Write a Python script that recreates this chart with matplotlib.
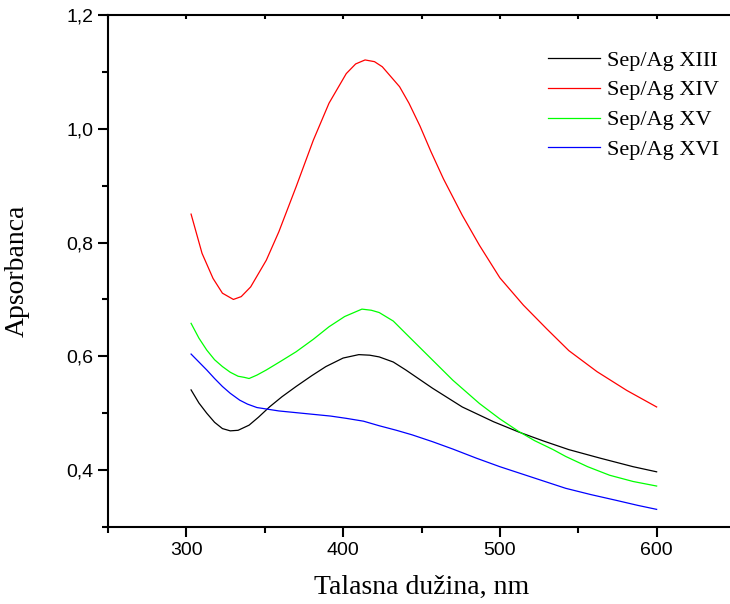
import matplotlib
matplotlib.use("Agg")
import matplotlib.pyplot as plt

# wavelength (nm) / absorbance
x_xiii = [303, 308, 313, 318, 323, 328, 333, 340, 346, 353, 361, 370, 380, 389, 400, 410, 417, 423,
          432, 440, 457, 476, 496, 512, 528, 544, 564, 585, 600]
y_xiii = [0.541, 0.518, 0.500, 0.484, 0.473, 0.469, 0.470, 0.479, 0.493, 0.511, 0.529, 0.547, 0.566,
          0.582, 0.597, 0.603, 0.602, 0.599, 0.590, 0.576, 0.544, 0.511, 0.485, 0.467, 0.451, 0.436,
          0.421, 0.406, 0.397]

x_xiv = [303, 310, 317, 323, 330, 335, 341, 351, 359, 370, 381, 391, 402, 408, 414, 420, 425, 436,
         442, 449, 456, 464, 476, 487, 500, 515, 530, 544, 562, 581, 600]
y_xiv = [0.850, 0.781, 0.737, 0.711, 0.700, 0.705, 0.722, 0.769, 0.819, 0.898, 0.980, 1.045, 1.097,
         1.114, 1.121, 1.118, 1.109, 1.074, 1.045, 1.005, 0.960, 0.912, 0.848, 0.795, 0.738, 0.690,
         0.648, 0.610, 0.573, 0.540, 0.511]

x_xv = [303, 308, 313, 318, 323, 328, 333, 337, 340, 345, 351, 360, 370, 381, 391, 401, 412, 418,
        423, 432, 440, 455, 470, 487, 500, 512, 522, 534, 542, 556, 570, 585, 600]
y_xv = [0.658, 0.632, 0.611, 0.594, 0.582, 0.572, 0.565, 0.563, 0.561, 0.567, 0.576, 0.591, 0.608,
        0.630, 0.652, 0.670, 0.683, 0.681, 0.677, 0.662, 0.640, 0.599, 0.558, 0.517, 0.490, 0.468,
        0.452, 0.436, 0.424, 0.406, 0.391, 0.380, 0.372]

x_xvi = [303, 308, 313, 318, 323, 328, 334, 339, 345, 352, 359, 370, 381, 392, 402, 413, 423, 434,
         444, 457, 470, 485, 500, 521, 542, 558, 574, 588, 600]
y_xvi = [0.604, 0.590, 0.576, 0.561, 0.547, 0.535, 0.523, 0.516, 0.510, 0.507, 0.504, 0.501, 0.498,
         0.495, 0.491, 0.486, 0.478, 0.470, 0.462, 0.450, 0.437, 0.421, 0.406, 0.387, 0.368, 0.357,
         0.347, 0.338, 0.331]

labels = ["Sep/Ag XIII", "Sep/Ag XIV", "Sep/Ag XV", "Sep/Ag XVI"]
colors = ["black", "red", "#00ff00", "blue"]

x_ticks = [300, 400, 500, 600]
x_minor = [250, 350, 450, 550, 650]
y_ticks = [0.4, 0.6, 0.8, 1.0, 1.2]
y_tick_labels = ["0,4", "0,6", "0,8", "1,0", "1,2"]
y_minor = [0.3, 0.5, 0.7, 0.9, 1.1]

fig = plt.figure(figsize=(7.3, 6.04), dpi=100)
ax = fig.add_axes([108 / 730, 77 / 604, 627 / 730, 512 / 604])

series = [(x_xiii, y_xiii), (x_xiv, y_xiv), (x_xv, y_xv), (x_xvi, y_xvi)]
for (xs, ys), lab, c in zip(series, labels, colors):
    ax.plot(xs, ys, color=c, lw=0.9, label=lab)

ax.set_xlim(250, 650)
ax.set_ylim(0.3, 1.2)

ax.set_xticks(x_ticks)
ax.set_xticklabels([str(v) for v in x_ticks])
ax.set_xticks(x_minor, minor=True)
ax.set_yticks(y_ticks)
ax.set_yticklabels(y_tick_labels)
ax.set_yticks(y_minor, minor=True)

ax.tick_params(which="major", direction="out", length=7, width=1.5,
               labelsize=14, top=False, right=False)
ax.tick_params(which="minor", direction="out", length=4, width=1.5, top=False, right=False)
for lab in ax.get_xticklabels() + ax.get_yticklabels():
    lab.set_family("Liberation Sans")

# small marks on the top spine
ax.tick_params(axis="x", which="both", top=True, labeltop=False)
for t in ax.xaxis.get_major_ticks() + ax.xaxis.get_minor_ticks():
    t.tick2line.set_markersize(3)
    t.tick2line.set_marker(3)

for s in ["left", "bottom", "top"]:
    ax.spines[s].set_linewidth(1.5)
ax.spines["right"].set_visible(False)

ax.set_xlabel("Talasna dužina, nm", family="Liberation Serif", fontsize=20, labelpad=12)
ax.set_ylabel("Apsorbanca", family="Liberation Serif", fontsize=20, labelpad=26)

ax.legend(loc="upper left", bbox_to_anchor=(548 / 730, 1 - 50 / 604),
          bbox_transform=fig.transFigure, frameon=False, borderpad=0, borderaxespad=0,
          handlelength=2.35, handletextpad=0.3, labelspacing=0.42,
          prop={"family": "Liberation Serif", "size": 16})

fig.savefig("out.png", dpi=100)
